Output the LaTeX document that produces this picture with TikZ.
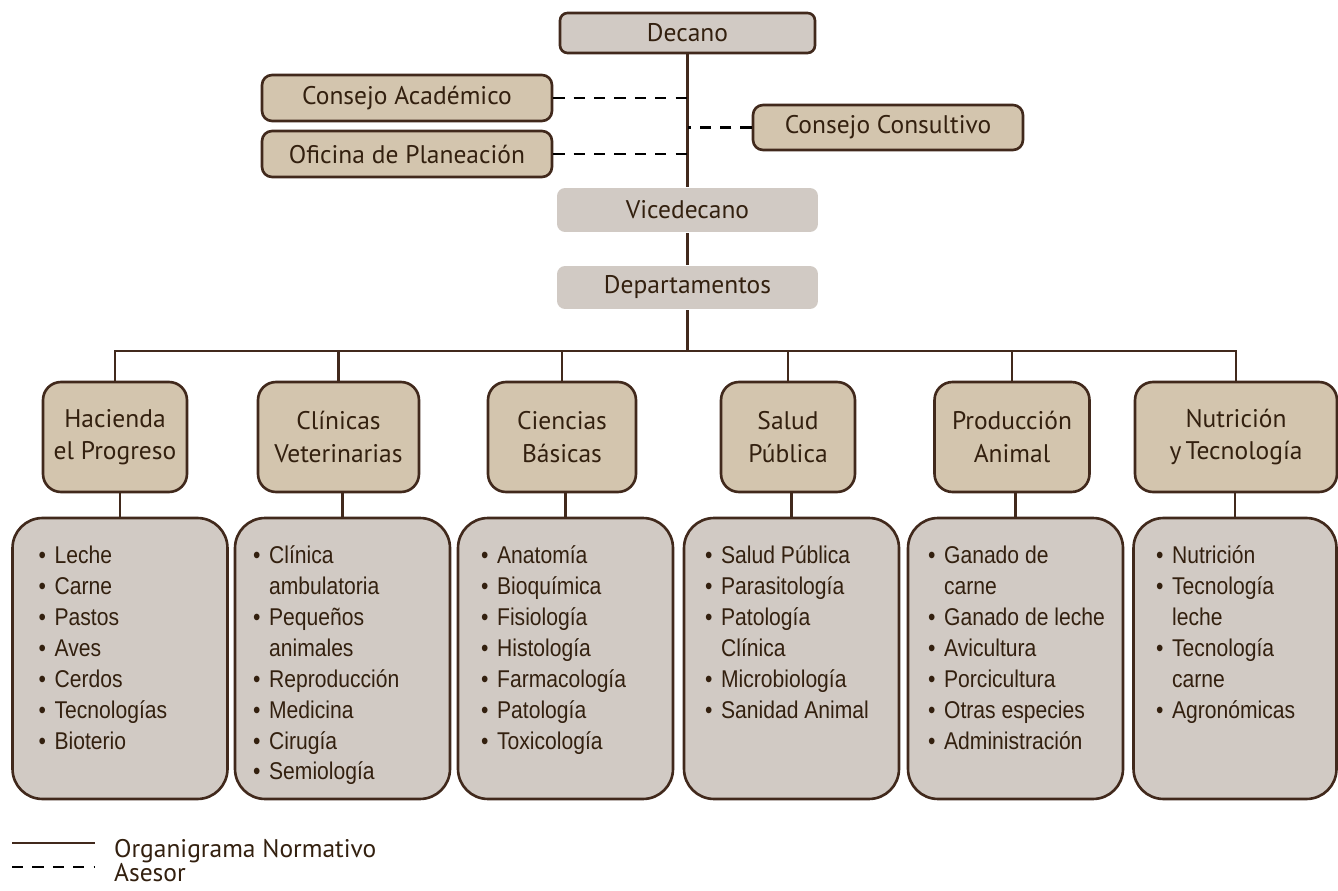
\documentclass[tikz,border=0pt]{standalone}
\usepackage{fontspec}
\setmainfont{PT Sans}
\newfontfamily\listfont[FakeStretch=0.87]{Liberation Sans}

\definecolor{orgtan}{HTML}{D3C5AE}
\definecolor{orggray}{HTML}{D1CAC4}
\definecolor{orgbrown}{HTML}{41291C}
\definecolor{orgtext}{HTML}{33200F}

% bullet with a fixed width, so the items line up
\newcommand{\punto}{\makebox[0.32cm][l]{\textbullet}}

\begin{document}
\begin{tikzpicture}[x=0.02cm, y=-0.02cm, line width=1.3pt,
    every node/.style={text=orgtext, inner sep=0pt},
    head/.style={font=\fontsize{14.5}{18.4}\selectfont},
    jefe/.style={head, draw=orgbrown, fill=orggray, line width=1.5pt, rounded corners=0.15cm},
    staff/.style={head, draw=orgbrown, fill=orgtan, line width=1.5pt, rounded corners=0.2cm},
    mando/.style={head, fill=orggray, rounded corners=0.16cm},
    depto/.style={head, draw=orgbrown, fill=orgtan, line width=1.5pt, rounded corners=0.36cm,
      align=center, minimum height=2.2cm},
    lista/.style={draw=orgbrown, fill=orggray, line width=1.5pt, rounded corners=0.6cm,
      minimum width=4.3cm, minimum height=5.62cm},
    items/.style={anchor=base west, font=\listfont\fontsize{13.8}{17.6}\selectfont},
    org/.style={draw=orgbrown},
    asesor/.style={draw=black, line width=1.5pt, dash pattern=on 6.4pt off 5.2pt}]

        % Page frame (pixel grid of the original)
        \useasboundingbox (0,0) rectangle (1338,891);

        % Direction
        \node[jefe, minimum width=5.1cm, minimum height=0.8cm] (decano) at (687.5,33) {Decano};
        \node[staff, minimum width=5.8cm, minimum height=0.92cm] (acad) at (407,98) {Consejo Académico};
        \node[staff, minimum width=5.8cm, minimum height=0.92cm] (plan) at (407,154) {Oficina de Planeación};
        \node[staff, minimum width=5.4cm, minimum height=0.9cm] (consul) at (888,127.5) {Consejo Consultivo};
        \node[mando, minimum width=5.22cm, minimum height=0.88cm] (vice) at (687.5,210) {Vicedecano};
        \node[mando, minimum width=5.22cm, minimum height=0.86cm] (deps) at (687.5,287.5) {Departamentos};
        \coordinate (bus) at (687.5,351);

        % Main line and advisers
        \draw[org] (decano.south) -- (vice.north) (vice.south) -- (deps.north) (deps.south) -- (bus);
        \draw[asesor] (acad.east) -- (acad.east -| decano.south);
        \draw[asesor] (plan.east) -- (plan.east -| decano.south);
        \draw[asesor] (consul.west) -- (consul.west -| decano.south);

        % Departments
        \node[depto, minimum width=2.88cm] (hac) at (115,437) {Hacienda\\el Progreso};
        \node[depto, minimum width=3.22cm] (cli) at (338.5,437) {Clínicas\\Veterinarias};
        \node[depto, minimum width=2.96cm] (cie) at (562,437) {Ciencias\\Básicas};
        \node[depto, minimum width=2.68cm] (sal) at (788,437) {Salud\\Pública};
        \node[depto, minimum width=3.1cm] (pro) at (1012,437) {Producción\\Animal};
        \node[depto, minimum width=4.04cm] (nut) at (1236,437) {Nutrición\\y\,Tecnología};

        \foreach \d in {hac,cli,cie,sal,pro,nut}
          \draw[org] (\d.north) |- (bus);

        % Sections of each department
        \node[lista] (hacL) at (120,658.5) {};
        \node[lista] (cliL) at (342.5,658.5) {};
        \node[lista] (cieL) at (565.5,658.5) {};
        \node[lista] (salL) at (791.5,658.5) {};
        \node[lista] (proL) at (1015.5,658.5) {};
        \node[lista, minimum width=4.06cm] (nutL) at (1235,658.5) {};

        \foreach \d in {hac,cli,cie,sal,pro,nut}
          \draw[org] (\d L.north) -- (\d L.north |- \d.south);

        \node[items] (hacT) at (37.5,563.5) {\begin{tabular}[t]{@{}l@{}l@{}}
          \punto & Leche\\ \punto & Carne\\ \punto & Pastos\\ \punto & Aves\\
          \punto & Cerdos\\ \punto & Tecnologías\\ \punto & Bioterio
        \end{tabular}};
        \node[items] (cliT) at (252,563.5) {\begin{tabular}[t]{@{}l@{}l@{}}
          \punto & Clínica\\ & ambulatoria\\ \punto & Pequeños\\ & animales\\
          \punto & Reproducción\\ \punto & Medicina\\ \punto & Cirugía\\ \punto & Semiología
        \end{tabular}};
        \node[items] (cieT) at (480,563.5) {\begin{tabular}[t]{@{}l@{}l@{}}
          \punto & Anatomía\\ \punto & Bioquímica\\ \punto & Fisiología\\ \punto & Histología\\
          \punto & Farmacología\\ \punto & Patología\\ \punto & Toxicología
        \end{tabular}};
        \node[items] (salT) at (704,563.5) {\begin{tabular}[t]{@{}l@{}l@{}}
          \punto & Salud Pública\\ \punto & Parasitología\\ \punto & Patología\\ & Clínica\\
          \punto & Microbiología\\ \punto & Sanidad Animal
        \end{tabular}};
        \node[items] (proT) at (927,563.5) {\begin{tabular}[t]{@{}l@{}l@{}}
          \punto & Ganado de\\ & carne\\ \punto & Ganado de leche\\ \punto & Avicultura\\
          \punto & Porcicultura\\ \punto & Otras especies\\ \punto & Administración
        \end{tabular}};
        \node[items] (nutT) at (1155,563.5) {\begin{tabular}[t]{@{}l@{}l@{}}
          \punto & Nutrición\\ \punto & Tecnología\\ & leche\\ \punto & Tecnología\\
          & carne\\ \punto & Agronómicas
        \end{tabular}};

        % Legend
        \coordinate (solA) at (12,843);
        \coordinate (solB) at (95,843);
        \coordinate (dasA) at (12,867);
        \coordinate (dasB) at (95,867);
        \draw[org] (solA) -- (solB);
        \draw[asesor] (dasA) -- (dasB);
        \node[head, anchor=base west] (leg1) at (113,857) {Organigrama Normativo};
        \node[head, anchor=base west] (leg2) at (113,881) {Asesor};

\end{tikzpicture}
\end{document}
